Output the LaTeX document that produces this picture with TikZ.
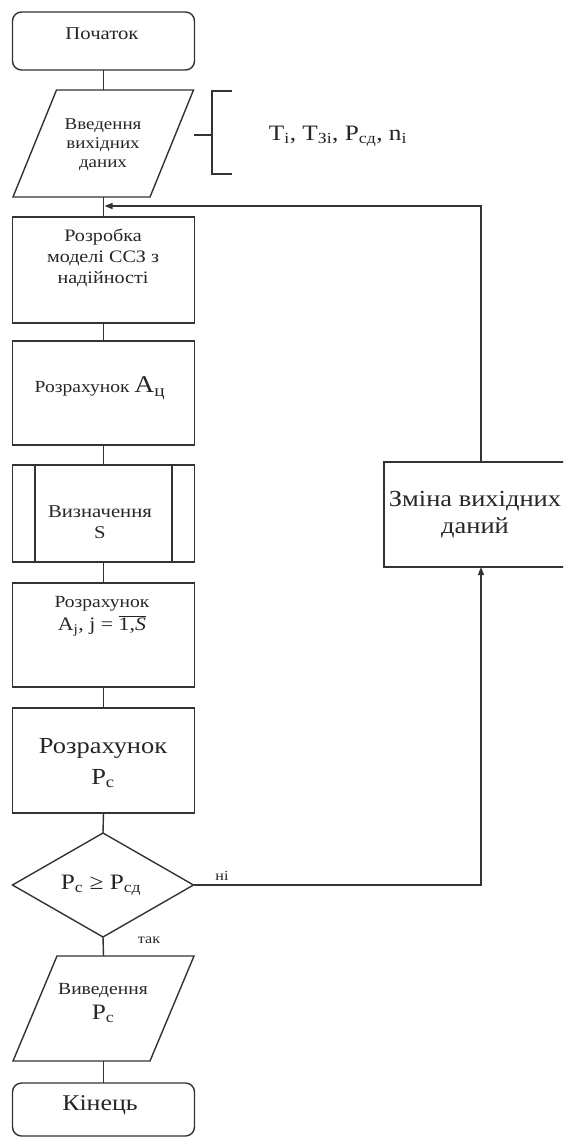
\documentclass[tikz,border=0pt]{standalone}
\usepackage{fontspec}
\setmainfont{Liberation Serif}[FakeStretch=1.15]
\usetikzlibrary{shapes.geometric,arrows.meta,calc}
\definecolor{lncol}{HTML}{333333}
\definecolor{txtcol}{HTML}{262626}
\newcommand\myfs[2]{\fontsize{#1}{#2}\selectfont}
\newcommand\sbs[1]{\textsubscript{#1}}
\begin{document}
\begin{tikzpicture}[x=1pt,y=-1pt,line width=1.4pt,
  every node/.style={inner sep=0pt,outer sep=0pt},
  shp/.style={draw=lncol},
  box/.style={shp,rectangle,minimum width=182pt},
  term/.style={shp,rectangle,rounded corners=9pt,minimum width=182pt},
  io/.style={rectangle,minimum width=137pt},
  decis/.style={shp,diamond,minimum width=181pt,minimum height=104pt},
  txt/.style={align=center,text=txtcol},
  lbl/.style={text=txtcol},
  conn/.style={draw=lncol},
  arr/.style={conn,-{Triangle[length=8pt,width=6pt]}}
]
\useasboundingbox (0,0) rectangle (563,1138);
\clip (0,0) rectangle (563,1138);
\fill[white] (0,0) rectangle (563,1138);

% start
\node[term,minimum height=58pt] (start) at (103.5,41) {};
\node[txt,font=\myfs{18}{20}] (tstart) at (102,34) {Початок};

% input
\node[io,minimum height=107pt] (in) at (103.5,143.5) {};
\draw[shp] ($(in.south west)+(-22,0)$) -- ($(in.north west)+(21.5,0)$) -- ($(in.north east)+(21.5,0)$) -- ($(in.south east)+(-22,0)$) -- cycle;
\node[txt,font=\myfs{16.5}{19}] (tin) at (103,145) {Введення\\вихідних\\даних};

% bracket annotation
\coordinate (bt) at (232,91);
\coordinate (bb) at (232,174);
\coordinate (bm) at (194,135);
\draw[conn] (bt) -- (212,91) -- (212,174) -- (bb);
\draw[conn] (bm) -- (212,135);
\node[lbl,anchor=base,font=\myfs{22}{26}] (par) at (338,140) {T\sbs{і}, T\sbs{Зі}, P\sbs{сд}, n\sbs{і}};

% process boxes
\node[box,minimum height=106pt] (rd) at (103.5,270) {};
\node[txt,font=\myfs{17.5}{21}] (trd) at (103,258) {Розробка\\моделі ССЗ з\\надійності};

\node[box,minimum height=104pt] (ra) at (103.5,393) {};
\node[txt,font=\myfs{17}{20}] (tra) at (100,388) {Розрахунок {\myfs{24}{28}A\sbs{ц}}};

\node[box,minimum height=97pt] (vs) at (103.5,513.5) {};
\draw[shp] ($(vs.north west)+(22.5,0)$) -- ($(vs.south west)+(22.5,0)$);
\draw[shp] ($(vs.north east)+(-22.5,0)$) -- ($(vs.south east)+(-22.5,0)$);
\node[txt,font=\myfs{18}{21}] (tvs) at (100,522) {Визначення\\S};

\node[box,minimum height=104pt] (rj) at (103.5,635) {};
\node[txt,font=\myfs{17}{23}] (trj) at (102,616) {Розрахунок\\{\myfs{19}{23}A\sbs{j}, j = $\overline{\hbox{1,\textit{S}}}$}};

\node[box,minimum height=105pt] (rp) at (103.5,760.5) {};
\node[txt,font=\myfs{23}{31}] (trp) at (103,763) {Розрахунок\\P\sbs{с}};

% decision
\node[decis] (dec) at (103,885) {};
\node[txt,font=\myfs{22}{26}] (tdec) at (101,885) {P\sbs{с} ≥ P\sbs{сд}};

% change box
\node[box,minimum width=194pt,minimum height=105pt] (cz) at (481,514.5) {};
\node[txt,font=\myfs{23}{27}] (tcz) at (475,515) {Зміна вихідних\\даний};

% output
\node[io,minimum height=105pt] (out) at (103.5,1008.5) {};
\draw[shp] ($(out.south west)+(-22,0)$) -- ($(out.north west)+(22,0)$) -- ($(out.north east)+(22,0)$) -- ($(out.south east)+(-22,0)$) -- cycle;
\node[txt,font=\myfs{17}{25}] (tout) at (103,1003) {Виведення\\{\myfs{22}{25}P\sbs{с}}};

% end
\node[term,minimum height=53pt] (end) at (103.5,1109.5) {};
\node[txt,font=\myfs{22.5}{26}] (tend) at (100,1105) {Кінець};

% connectors
\draw[conn] (start.south) -- (in.north);
\draw[conn] (in.south) -- (rd.north);
\draw[conn] (rd.south) -- (ra.north);
\draw[conn] (ra.south) -- (vs.north);
\draw[conn] (vs.south) -- (rj.north);
\draw[conn] (rj.south) -- (rp.north);
\draw[conn] (rp.south) -- (dec.north);
\draw[conn] (dec.south) -- (out.north);
\draw[conn] (out.south) -- (end.north);
\draw[arr] (dec.east) -| (cz.south);
\coordinate (jn) at (104.5,206);
\draw[arr] (cz.north) |- (jn);

\node[lbl,font=\myfs{14}{16}] (no) at (222,876) {ні};
\node[lbl,font=\myfs{14}{16}] (yes) at (149,940) {так};
\end{tikzpicture}
\end{document}
